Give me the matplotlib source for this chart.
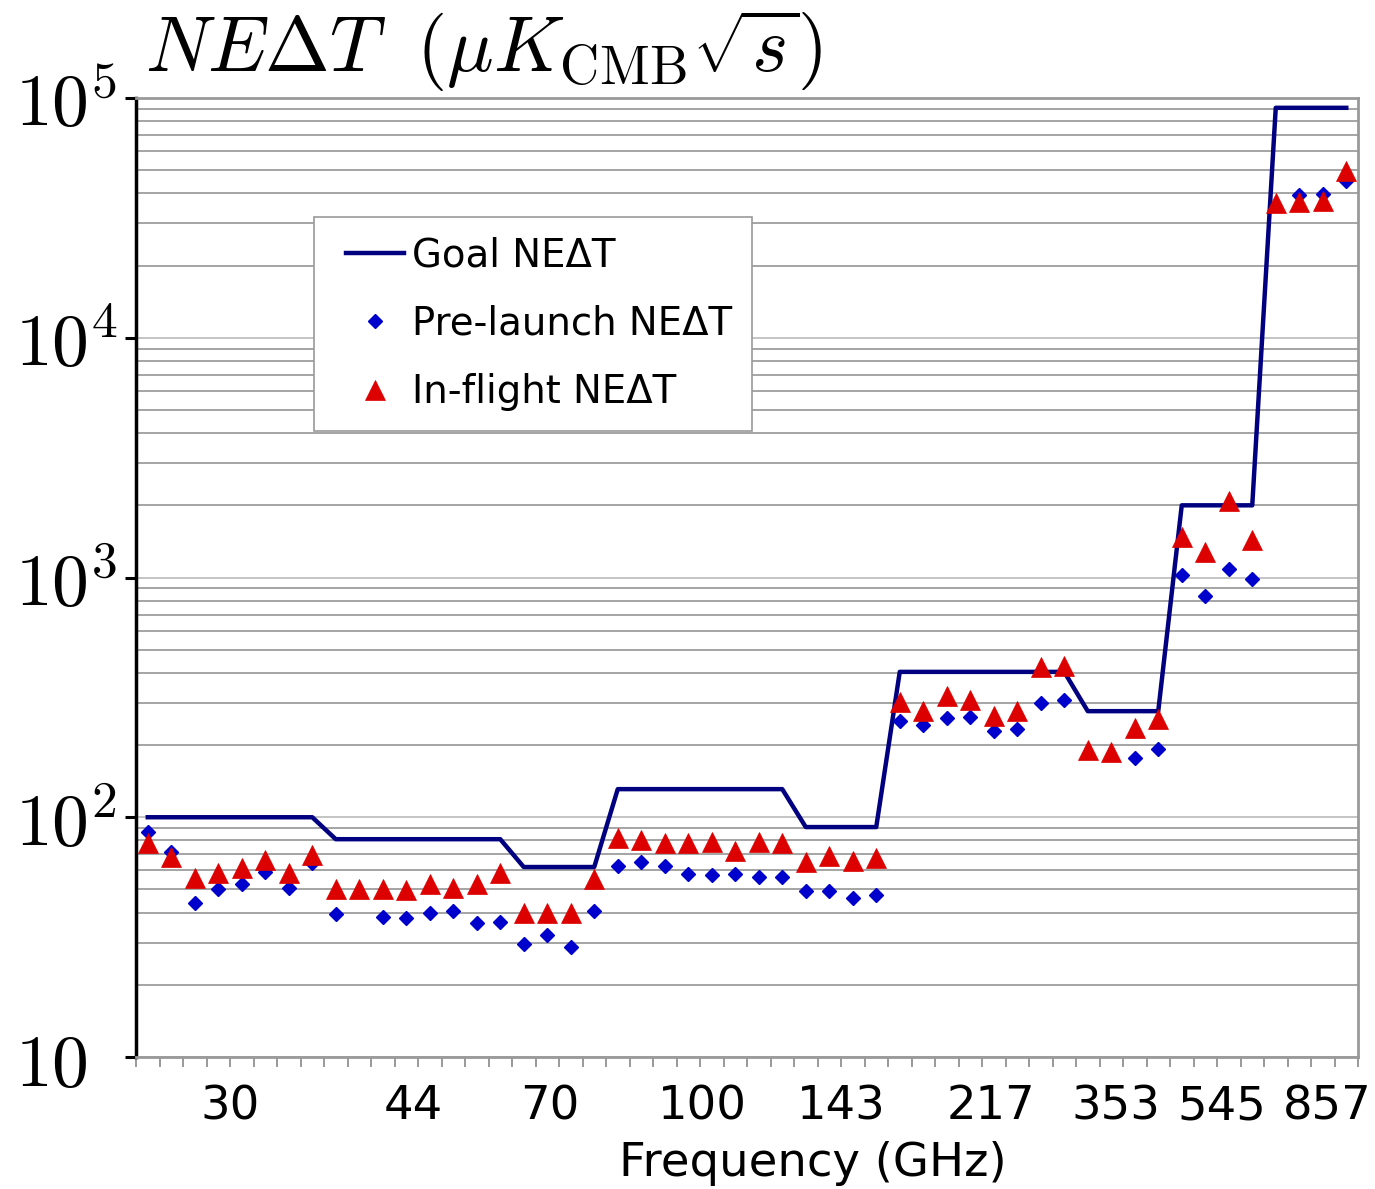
import numpy as np
import matplotlib
matplotlib.use("Agg")
import matplotlib.pyplot as plt
from matplotlib.ticker import FixedLocator, NullFormatter
from matplotlib.lines import Line2D
from matplotlib.legend_handler import HandlerLine2D

plt.rcParams['font.family'] = ['DejaVu Sans']
plt.rcParams['mathtext.fontset'] = 'cm'

# ---- data ----
freq_labels = ['30', '44', '70', '100', '143', '217', '353', '545', '857']
group_sizes = [8, 8, 4, 8, 4, 8, 4, 4, 4]
goal_by_group = [100, 81, 62, 131, 91, 404, 277, 2000, 91000]

pre_launch = [86.8, 71.8, 44.0, 50.3, 52.5, 59.3, 50.8, 64.3,
              39.5, np.nan, 38.5, 38.0, 40.0, 40.6, 36.1, 36.5,
              29.6, 32.3, 28.8, 40.6,
              62.8, 64.9, 62.6, 58.0, 57.3, 58.2, 56.5, 56.5,
              49.4, 49.1, 45.9, 47.4,
              252, 242, 260, 262, 229, 234, 300, 308,
              np.nan, np.nan, 177, 193,
              1024, 837, 1082, 988,
              np.nan, 39400, 39800, 45200]

in_flight = [78, 68.5, 55.7, 58.4, 61.2, 66.3, 58.4, 69.6,
             50.2, 50.2, 50.2, 49.7, 52.7, 50.8, 52.7, 58.4,
             39.7, 40.0, 39.7, 55.1,
             81.7, 80.4, 77.8, 78.3, 79.1, 72.3, 79.1, 77.8,
             65.3, 68.9, 65.7, 67.4,
             303, 278, 320, 308, 264, 277, 425, 427,
             190, 188, 235, 257,
             1479, 1281, 2091, 1433,
             36400, 36800, 37200, 49800]

# layout: small shifts of the group labels away from the group centres (x units)
label_shift = [0.0, -0.2, -0.4, 0.1, 0.0, 0.4, -0.3, 0.2, 0.7]

goal = np.repeat(goal_by_group, group_sizes)
n = len(goal)
x = np.arange(n)

fig = plt.figure(figsize=(13.75, 11.89), dpi=100)
ax = fig.add_axes([136/1375, 1-1057/1189, (1358-136)/1375, (1057-98)/1189])

ax.set_yscale('log')
ax.set_ylim(10, 1e5)
ax.set_xlim(-0.5, n - 0.5)

# grid
ax.yaxis.set_major_locator(FixedLocator([10, 100, 1e3, 1e4, 1e5]))
minors = [m * 10**d for d in range(1, 5) for m in range(2, 10)]
ax.yaxis.set_minor_locator(FixedLocator(minors))
ax.yaxis.set_minor_formatter(NullFormatter())
ax.grid(axis='y', which='major', color='#c4c4c4', lw=1.4, zorder=0)
ax.grid(axis='y', which='minor', color='#8c8c8c', lw=1.1, zorder=0)
ax.set_axisbelow(True)

ax.set_yticklabels(['$10$', '$10^2$', '$10^3$', '$10^4$', '$10^5$'], fontsize=53)
ax.tick_params(axis='y', which='major', length=8, width=2.2, color='black', pad=79, direction='out')
ax.tick_params(axis='y', which='minor', length=0)
for t in ax.get_yticklabels():
    t.set_horizontalalignment('left')

# x ticks: boundaries (small ticks) + group labels (minor, no tick)
ax.xaxis.remove_overlapping_locs = False
edges = np.cumsum([0] + group_sizes) - 0.5
centers = (edges[:-1] + edges[1:]) / 2 + np.array(label_shift)
ax.set_xticks(np.arange(n + 1) - 0.5)
ax.set_xticklabels([])
ax.set_xticks(centers, minor=True)
ax.set_xticklabels(freq_labels, minor=True, fontsize=33.5)
ax.tick_params(axis='x', which='major', length=7, width=1.2, color='#888888', direction='out')
ax.tick_params(axis='x', which='minor', length=0, pad=19.5)

for s in ['top', 'right', 'bottom']:
    ax.spines[s].set_color('#999999')
    ax.spines[s].set_linewidth(2)
ax.spines['left'].set_color('black')
ax.spines['left'].set_linewidth(2.5)

ax.plot(x, goal, color='#000080', lw=3.2, label='Goal', zorder=3)
ax.plot(x, pre_launch, ls='none', marker='D', ms=7, color='#0000cc', mec='#0000cc',
        label='Pre-launch', zorder=4)
ax.plot(x, in_flight, ls='none', marker='^', ms=15, color='#dd0000', mec='#dd0000', mew=0.5,
        label='In-flight', zorder=5)

h, l = ax.get_legend_handles_labels()
leg = ax.legend(h, ['Goal NEΔT', 'Pre-launch NEΔT', 'In-flight NEΔT'],
                loc='upper left', bbox_to_anchor=((314-136)/1222, (1057-217)/959),
                fontsize=27.8, frameon=True, fancybox=False, framealpha=1,
                edgecolor='#999999', handlelength=1.84, handletextpad=0.2,
                labelspacing=0.79, borderpad=0.5, borderaxespad=0,
                handler_map={Line2D: HandlerLine2D(xpad=0.32)})
leg.get_frame().set_linewidth(1.2)

ax.set_xlabel('Frequency (GHz)', fontsize=33.5)
ax.xaxis.set_label_coords((813-136)/1222, -0.088)

fig.text(145/1375, 1-72/1189, r'$NE\Delta T\ \;(\mu K_{\rm CMB}\sqrt{s})$', fontsize=56,
         ha='left', va='baseline')

fig.savefig('out.png', dpi=100)
